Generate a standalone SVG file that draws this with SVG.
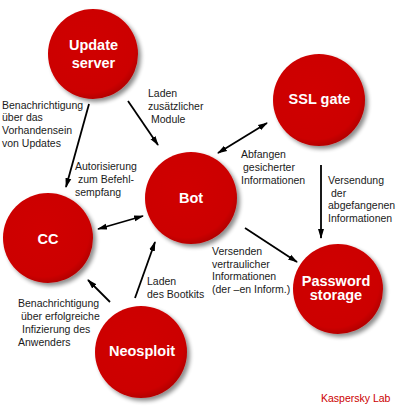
<svg xmlns="http://www.w3.org/2000/svg" width="400" height="407" viewBox="0 0 400 407">
<style>
.lbl{font-family:"Liberation Sans",Arial,sans-serif;font-size:10.5px;fill:#1a1a1a}
.nt{font-family:"Liberation Sans",Arial,sans-serif;font-size:14.5px;font-weight:bold;fill:#fff;text-anchor:middle}
.ball{fill:url(#rg);filter:url(#sh)}
.cn{stroke:#000;stroke-width:1.8;fill:none}
</style>
<defs>
<radialGradient id="rg" cx="0.45" cy="0.42" r="0.6">
<stop offset="0" stop-color="#d00000"/>
<stop offset="0.85" stop-color="#cc0000"/>
<stop offset="1" stop-color="#b00000"/>
</radialGradient>
<filter id="sh" x="-30%" y="-30%" width="160%" height="160%">
<feGaussianBlur in="SourceAlpha" stdDeviation="2"/>
<feOffset dx="3" dy="3" result="b"/>
<feComponentTransfer><feFuncA type="linear" slope="0.45"/></feComponentTransfer>
<feMerge><feMergeNode/><feMergeNode in="SourceGraphic"/></feMerge>
</filter>
<marker id="ah" viewBox="0 0 10 10" refX="9" refY="5" markerWidth="5.5" markerHeight="5.5" orient="auto-start-reverse" markerUnits="strokeWidth">
<path d="M0,2 L10,5 L0,8 z" fill="#000"/>
</marker>
</defs>
<rect width="400" height="407" fill="#fff"/>
<g id="connectors">
<line class="cn" x1="89" y1="104" x2="66" y2="187" marker-end="url(#ah)"/>
<line class="cn" x1="128" y1="101" x2="158" y2="145" marker-end="url(#ah)"/>
<line class="cn" x1="218" y1="153" x2="267" y2="123" marker-start="url(#ah)" marker-end="url(#ah)"/>
<line class="cn" x1="98" y1="229" x2="143" y2="216" marker-start="url(#ah)" marker-end="url(#ah)"/>
<line class="cn" x1="135" y1="298" x2="155" y2="242" marker-end="url(#ah)"/>
<line class="cn" x1="110" y1="302" x2="88" y2="280" marker-end="url(#ah)"/>
<line class="cn" x1="321" y1="165" x2="321" y2="238" marker-end="url(#ah)"/>
<line class="cn" x1="245" y1="228" x2="297" y2="262" marker-end="url(#ah)"/>
</g>
<g id="update-server">
<circle class="ball" cx="93" cy="54" r="45"/>
<text class="nt" x="93.5" y="50">Update</text>
<text class="nt" x="93.5" y="68">server</text>
</g>
<g id="ssl-gate">
<circle class="ball" cx="319" cy="100" r="46"/>
<text class="nt" x="319.5" y="104">SSL gate</text>
</g>
<g id="cc">
<circle class="ball" cx="48" cy="238" r="45"/>
<text class="nt" x="48" y="244">CC</text>
</g>
<g id="bot">
<circle class="ball" cx="191" cy="198" r="46"/>
<text class="nt" x="191" y="203">Bot</text>
</g>
<g id="password-storage">
<circle class="ball" cx="338" cy="289" r="45"/>
<text class="nt" x="336" y="285.5">Password</text>
<text class="nt" x="336" y="300">storage</text>
</g>
<g id="neosploit">
<circle class="ball" cx="141" cy="352" r="46"/>
<text class="nt" x="142" y="356">Neosploit</text>
</g>
<g id="labels">
<text class="lbl" x="2" y="108.5">Benachrichtigung</text>
<text class="lbl" x="2" y="121">über das</text>
<text class="lbl" x="2" y="134">Vorhandensein</text>
<text class="lbl" x="2" y="147">von Updates</text>
<text class="lbl" x="148" y="97">Laden</text>
<text class="lbl" x="148" y="110">zusätzlicher</text>
<text class="lbl" x="151" y="123">Module</text>
<text class="lbl" x="75" y="170">Autorisierung</text>
<text class="lbl" x="78" y="183">zum Befehl-</text>
<text class="lbl" x="75" y="195.5">sempfang</text>
<text class="lbl" x="241" y="158">Abfangen</text>
<text class="lbl" x="243" y="171">gesicherter</text>
<text class="lbl" x="241" y="184">Informationen</text>
<text class="lbl" x="328" y="184">Versendung</text>
<text class="lbl" x="331" y="196.5">der</text>
<text class="lbl" x="328" y="209">abgefangenen</text>
<text class="lbl" x="328" y="222">Informationen</text>
<text class="lbl" x="212" y="255">Versenden</text>
<text class="lbl" x="212" y="267.7">vertraulicher</text>
<text class="lbl" x="212" y="280.4">Informationen</text>
<text class="lbl" x="212" y="293">(der –en Inform.)</text>
<text class="lbl" x="147" y="285">Laden</text>
<text class="lbl" x="147" y="297.5">des Bootkits</text>
<text class="lbl" x="18" y="307">Benachrichtigung</text>
<text class="lbl" x="21" y="320">über erfolgreiche</text>
<text class="lbl" x="22" y="333">Infizierung des</text>
<text class="lbl" x="18" y="346">Anwenders</text>
<text class="lbl" x="321" y="402" style="fill:#cc0000">Kaspersky Lab</text>
</g>
</svg>
